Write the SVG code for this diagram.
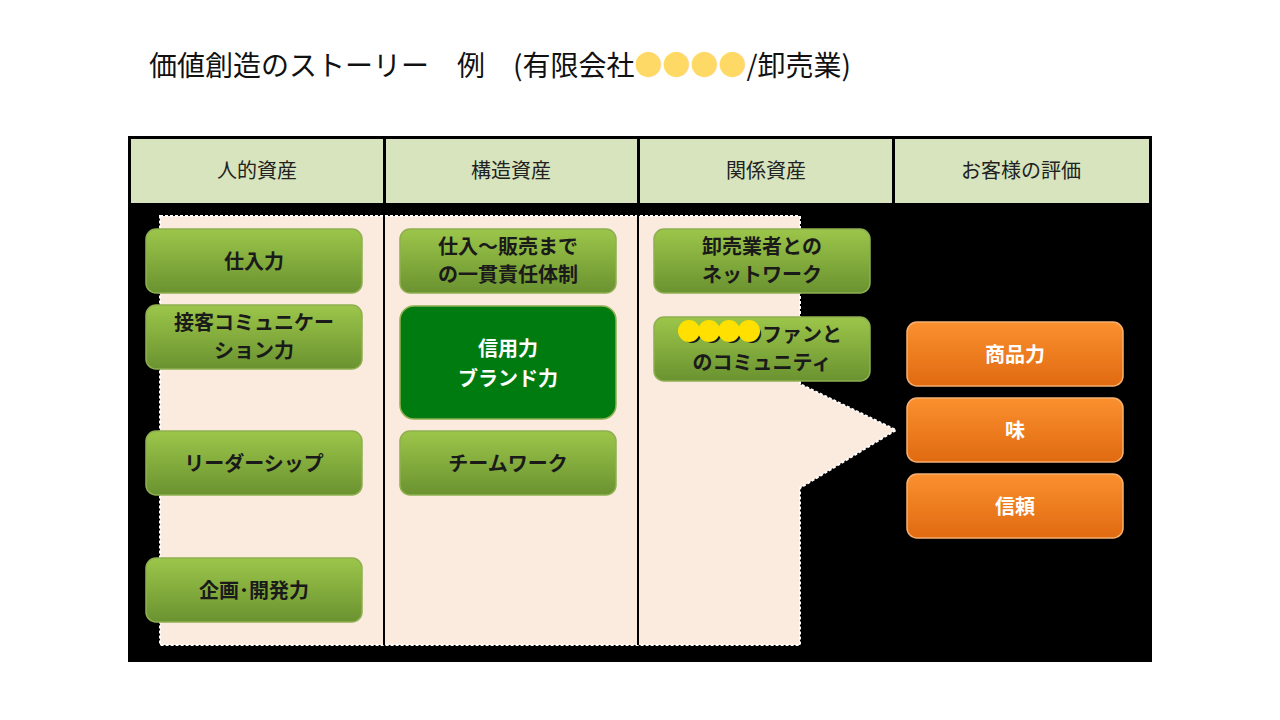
<svg xmlns="http://www.w3.org/2000/svg" width="1280" height="720" viewBox="0 0 1280 720">
<style>
text{font-family:"Noto Sans CJK JP",sans-serif;text-anchor:middle}
.h{font-size:20px;fill:#222}
.g{font-size:20px;font-weight:bold;fill:#1a1a1a}
.w{font-size:20px;font-weight:bold;fill:#fff}
.gb{fill:url(#gg);stroke:#8fb050;stroke-width:1.5}
.ob{fill:url(#og);stroke:#f8b070;stroke-width:1.5}
</style>
<defs>
<linearGradient id="gg" x1="0" y1="0" x2="0" y2="1"><stop offset="0" stop-color="#9cc64a"/><stop offset="1" stop-color="#6a9230"/></linearGradient>
<linearGradient id="og" x1="0" y1="0" x2="0" y2="1"><stop offset="0" stop-color="#fb902f"/><stop offset="1" stop-color="#e06a10"/></linearGradient>
</defs>
<rect width="1280" height="720" fill="#fff"/>
<text x="500" y="76" style="font-size:28px;text-anchor:middle;fill:#111">価値創造のストーリー　例　(有限会社<tspan fill="#ffd966">●●●●</tspan>/卸売業)</text>
<rect x="128" y="136" width="1024" height="526" fill="#000"/>
<g id="headers">
<rect x="131" y="139" width="252" height="64" fill="#d7e4bd"/>
<rect x="386" y="139" width="251" height="64" fill="#d7e4bd"/>
<rect x="640" y="139" width="252" height="64" fill="#d7e4bd"/>
<rect x="895" y="139" width="254" height="64" fill="#d7e4bd"/>
<text class="h" x="257" y="178">人的資産</text>
<text class="h" x="511" y="178">構造資産</text>
<text class="h" x="766" y="178">関係資産</text>
<text class="h" x="1021" y="178">お客様の評価</text>
</g>
<polygon points="160,216 800,216 800,384 896,430 800,488 800,645 160,645" fill="#fbeade" stroke="#fff" stroke-width="2" stroke-dasharray="3,2"/>
<g id="connectors">
<line x1="384" y1="203" x2="384" y2="645" stroke="#000" stroke-width="2"/>
<line x1="638" y1="203" x2="638" y2="645" stroke="#000" stroke-width="2"/>
</g>
<g id="n1"><rect class="gb" x="146" y="229" width="216" height="64" rx="10"/><text class="g" x="254" y="269">仕入力</text></g>
<g id="n2"><rect class="gb" x="146" y="305" width="216" height="64" rx="10"/><text class="g" x="254" y="330">接客コミュニケー</text><text class="g" x="254" y="358">ション力</text></g>
<g id="n3"><rect class="gb" x="146" y="431" width="216" height="64" rx="10"/><text class="g" x="254" y="471">リーダーシップ</text></g>
<g id="n4"><rect class="gb" x="146" y="558" width="216" height="64" rx="10"/><text class="g" x="254" y="598">企画･開発力</text></g>
<g id="n5"><rect class="gb" x="400" y="229" width="216" height="64" rx="10"/><text class="g" x="508" y="254">仕入～販売まで</text><text class="g" x="508" y="282">の一貫責任体制</text></g>
<g id="n6"><rect x="400" y="306" width="216" height="113" rx="14" fill="#007b10" stroke="#8fb050" stroke-width="1.5"/><text class="w" x="508" y="356">信用力</text><text class="w" x="508" y="386">ブランド力</text></g>
<g id="n7"><rect class="gb" x="400" y="431" width="216" height="64" rx="10"/><text class="g" x="508" y="471">チームワーク</text></g>
<g id="n8"><rect class="gb" x="654" y="229" width="216" height="64" rx="10"/><text class="g" x="762" y="254">卸売業者との</text><text class="g" x="762" y="282">ネットワーク</text></g>
<g id="n9"><rect class="gb" x="654" y="317" width="216" height="64" rx="10"/><text class="g" x="762" y="342">●●●●ファンと</text><text class="g" x="762" y="370">のコミュニティ</text>
<g fill="#ffe000"><circle cx="689" cy="331" r="11"/><circle cx="709" cy="331" r="11"/><circle cx="729" cy="331" r="11"/><circle cx="749" cy="331" r="11"/></g></g>
<g id="o1"><rect class="ob" x="907" y="322" width="216" height="64" rx="10"/><text class="w" x="1015" y="362">商品力</text></g>
<g id="o2"><rect class="ob" x="907" y="398" width="216" height="64" rx="10"/><text class="w" x="1015" y="438">味</text></g>
<g id="o3"><rect class="ob" x="907" y="474" width="216" height="64" rx="10"/><text class="w" x="1015" y="514">信頼</text></g>
</svg>
